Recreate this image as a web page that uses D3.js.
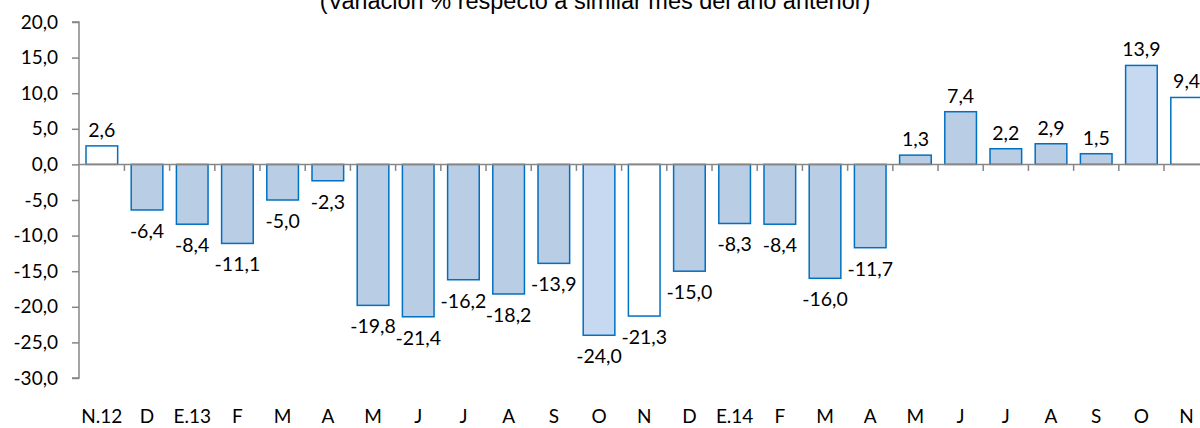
<!DOCTYPE html>
<html>
<head>
<meta charset="utf-8">
<script src="https://cdn.jsdelivr.net/npm/d3@7"></script>
<style>
  body { margin: 0; background: #fff; }
  svg { display: block; }
</style>
</head>
<body>
<div id="chart"></div>
<script>
// Data
const months = ["N.12", "D", "E.13", "F", "M", "A", "M", "J", "J", "A", "S", "O", "N",
                "D", "E.14", "F", "M", "A", "M", "J", "J", "A", "S", "O", "N"];
const values = [2.6, -6.4, -8.4, -11.1, -5.0, -2.3, -19.8, -21.4, -16.2, -18.2, -13.9, -24.0, -21.3,
                -15.0, -8.3, -8.4, -16.0, -11.7, 1.3, 7.4, 2.2, 2.9, 1.5, 13.9, 9.4];
// bar kind: "n" = November (white), "o" = October (light), "m" = other months
const kinds = ["n", "m", "m", "m", "m", "m", "m", "m", "m", "m", "m", "o", "n",
               "m", "m", "m", "m", "m", "m", "m", "m", "m", "m", "o", "n"];
const yTicks = [20, 15, 10, 5, 0, -5, -10, -15, -20, -25, -30];
const title = "(Variación % respecto a similar mes del año anterior)";

const W = 1200, H = 428;
const left = 79;
const font = "Lato, 'Open Sans', sans-serif";

const svg = d3.select("#chart").append("svg")
    .attr("width", W)
    .attr("height", H);

const y = d3.scaleLinear()
    .domain([-30, 20])
    .range([378, 22]);

const step = 45.2, pIn = 0.3, pOut = 0.155;
const x = d3.scaleBand()
    .domain(d3.range(months.length))
    .range([left, left + step * (months.length - pIn + 2 * pOut)])
    .paddingInner(pIn)
    .paddingOuter(pOut);

const fmt = v => d3.format(".1f")(v).replace(".", ",").replace("−", "-");

const fills = {n: "#ffffff", o: "#c6d9f1", m: "#b9cde5"};

// Title (top part cut off, as in the reference)
svg.append("text")
    .attr("x", 595)
    .attr("y", 9)
    .attr("text-anchor", "middle")
    .style("font-family", "'Liberation Sans', Arial, sans-serif")
    .style("font-size", "23.5px")
    .style("fill", "#000")
    .text(title);

// Y axis
const yAxis = svg.append("g")
    .attr("transform", `translate(${left},0)`)
    .call(d3.axisLeft(y).tickValues(yTicks).tickSize(7).tickFormat(fmt));
yAxis.select(".domain").attr("stroke", "#868686").attr("stroke-width", 1.5)
    .attr("d", `M-7,${y(20)}H0V${y(-30)}H-7`);
yAxis.selectAll(".tick line").attr("stroke", "#868686").attr("stroke-width", 1.5);
yAxis.selectAll(".tick text")
    .attr("x", -21)
    .style("font-family", font)
    .style("font-size", "19px")
    .style("fill", "#000");

// Bars
svg.append("g")
    .selectAll("rect")
    .data(values)
    .join("rect")
      .attr("x", (d, i) => x(i))
      .attr("width", x.bandwidth())
      .attr("y", d => y(Math.max(0, d)))
      .attr("height", d => Math.abs(y(d) - y(0)))
      .attr("fill", (d, i) => fills[kinds[i]])
      .attr("stroke", "#0070c0")
      .attr("stroke-width", 1.5);

// Zero line with category ticks
svg.append("line")
    .attr("x1", left).attr("x2", W)
    .attr("y1", y(0)).attr("y2", y(0))
    .attr("stroke", "#868686").attr("stroke-width", 1.5);

svg.append("g")
    .selectAll("line")
    .data(d3.range(1, months.length))
    .join("line")
      .attr("x1", i => x(i) - x.step() * pIn / 2)
      .attr("x2", i => x(i) - x.step() * pIn / 2)
      .attr("y1", y(0))
      .attr("y2", y(0) + 6.5)
      .attr("stroke", "#868686")
      .attr("stroke-width", 1.5);

// Value labels
svg.append("g")
    .selectAll("text")
    .data(values)
    .join("text")
      .attr("x", (d, i) => x(i) + x.bandwidth() / 2)
      .attr("y", d => d >= 0 ? y(d) - 9 : y(d) + 28)
      .attr("text-anchor", "middle")
      .style("font-family", font)
      .style("font-size", "19.5px")
      .style("fill", "#000")
      .text(fmt);

// Category labels
svg.append("g")
    .selectAll("text")
    .data(months)
    .join("text")
      .attr("x", (d, i) => x(i) + x.bandwidth() / 2)
      .attr("y", 423)
      .attr("text-anchor", "middle")
      .style("font-family", font)
      .style("font-size", "19px")
      .style("fill", "#000")
      .text(d => d);
</script>
</body>
</html>
